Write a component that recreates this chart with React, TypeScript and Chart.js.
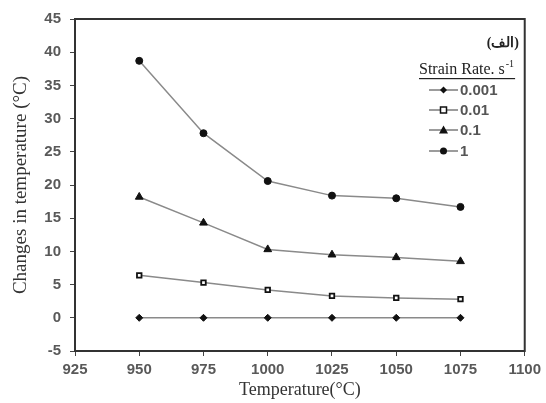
import React, { useEffect, useRef } from "react";
import { Chart, registerables } from "chart.js";

Chart.register(...registerables);

const temperatures = [950, 975, 1000, 1025, 1050, 1075];
const rate0001 = [0, 0, 0, 0, 0, 0];
const rate001 = [6.4, 5.3, 4.2, 3.3, 3.0, 2.8];
const rate01 = [18.2, 14.3, 10.3, 9.5, 9.1, 8.5];
const rate1 = [38.7, 27.8, 20.6, 18.4, 18.0, 16.7];
const seriesLabels = ["0.001", "0.01", "0.1", "1"];
const legendTitle = "Strain Rate. s";
const panelLabel = "(الف)";
const xTitle = "Temperature(°C)";
const yTitle = "Changes in temperature (°C)";

const LINE = "#8a8a8a";
const MARK = "#111111";
const TICK_FONT = "'Liberation Sans', Arial, sans-serif";
const SERIF = "'Liberation Serif', 'Times New Roman', serif";

function drawMarker(ctx: CanvasRenderingContext2D, style: string, x: number, y: number) {
  ctx.save();
  ctx.fillStyle = MARK;
  ctx.strokeStyle = MARK;
  ctx.lineWidth = 1.5;
  ctx.beginPath();
  if (style === "rectRot") {
    const r = 3.5;
    ctx.moveTo(x, y - r); ctx.lineTo(x + r, y); ctx.lineTo(x, y + r); ctx.lineTo(x - r, y); ctx.closePath();
    ctx.fill();
  } else if (style === "rect") {
    ctx.fillStyle = "#fff";
    ctx.rect(x - 3, y - 3, 6, 6);
    ctx.fill(); ctx.stroke();
  } else if (style === "triangle") {
    const r = 4.5;
    ctx.moveTo(x, y - r); ctx.lineTo(x + r, y + r * 0.75); ctx.lineTo(x - r, y + r * 0.75); ctx.closePath();
    ctx.fill();
  } else {
    ctx.arc(x, y, 3.5, 0, Math.PI * 2);
    ctx.fill();
  }
  ctx.restore();
}

const styles = ["rectRot", "rect", "triangle", "circle"];

export default function App() {
  const ref = useRef<HTMLCanvasElement | null>(null);
  useEffect(() => {
    if (!ref.current) return;
    const frame = {
      id: "frame",
      afterDatasetsDraw(chart: any) {
        const { ctx, chartArea: a } = chart;
        ctx.save();
        ctx.strokeStyle = "#333";
        ctx.lineWidth = 2;
        ctx.strokeRect(a.left, a.top, a.right - a.left, a.bottom - a.top);
        // panel label
        ctx.fillStyle = "#222";
        ctx.font = `bold 14px ${SERIF}`;
        ctx.textAlign = "right";
        ctx.textBaseline = "middle";
        ctx.fillText(panelLabel, 519, 43);
        // legend title
        ctx.font = `16px ${SERIF}`;
        ctx.textAlign = "left";
        const tw = ctx.measureText(legendTitle).width;
        const tx = 419;
        ctx.fillText(legendTitle, tx, 70);
        ctx.font = `10px ${SERIF}`;
        ctx.fillText("-1", tx + tw + 1, 64);
        const sw = ctx.measureText("-1").width;
        ctx.fillRect(tx, 78, tw + sw + 2, 1.2);
        // entries
        const rows = [90, 110, 130, 151];
        ctx.font = `bold 15px ${TICK_FONT}`;
        seriesLabels.forEach((lab, i) => {
          const y = rows[i];
          ctx.strokeStyle = "#666";
          ctx.lineWidth = 1.3;
          ctx.beginPath();
          ctx.moveTo(429, y); ctx.lineTo(458, y); ctx.stroke();
          drawMarker(ctx, styles[i], 443.5, y);
          ctx.fillStyle = "#555";
          ctx.fillText(lab, 460, y + 1);
        });
        ctx.restore();
      },
    };
    const mk = (label: string, data: number[], style: string, radius: number, fill: string) => ({
      label,
      data: temperatures.map((t, i) => ({ x: t, y: data[i] })),
      borderColor: LINE,
      borderWidth: 1.5,
      pointStyle: style,
      pointRadius: radius,
      pointBackgroundColor: fill,
      pointBorderColor: MARK,
      pointBorderWidth: style === "rect" ? 1.8 : 1,
      tension: 0,
    });
    const chart = new Chart(ref.current, {
      type: "line",
      data: {
        datasets: [
          mk(seriesLabels[0], rate0001, "rectRot", 3.5, MARK),
          mk(seriesLabels[1], rate001, "rect", 3.2, "#fff"),
          mk(seriesLabels[2], rate01, "triangle", 4.5, MARK),
          mk(seriesLabels[3], rate1, "circle", 3.5, MARK),
        ],
      },
      options: {
        animation: false,
        responsive: false,
        devicePixelRatio: 1,
        layout: { padding: { top: 19, right: 20, left: 0, bottom: 0 } },
        plugins: { legend: { display: false }, tooltip: { enabled: false } },
        scales: {
          x: {
            type: "linear",
            min: 925,
            max: 1100,
            afterFit: (s: any) => { s.height = 52; },
            ticks: {
              stepSize: 25,
              color: "#595959",
              font: { family: TICK_FONT, size: 15, weight: "bold" },
              padding: 5,
              callback: (v: any) => String(v),
            },
            grid: { drawOnChartArea: false, drawTicks: true, tickLength: 5, color: "#444" },
            border: { color: "#333", width: 2 },
            title: { display: true, text: xTitle, color: "#333", font: { family: SERIF, size: 18 }, padding: { top: 0, bottom: 2 } },
          },
          y: {
            min: -5,
            max: 45,
            afterFit: (s: any) => { s.width = 75; },
            ticks: { stepSize: 5, color: "#595959", font: { family: TICK_FONT, size: 15, weight: "bold" }, padding: 9 },
            grid: { drawOnChartArea: false, drawTicks: true, tickLength: 5, color: "#444" },
            border: { color: "#333", width: 2 },
            title: { display: true, text: yTitle, color: "#333", font: { family: SERIF, size: 19 }, padding: { top: 10, bottom: 0 } },
          },
        },
      },
      plugins: [frame],
    } as any);
    return () => chart.destroy();
  }, []);
  return (
    <div style={{ position: "fixed", left: 0, top: 0, width: 546, height: 403, background: "#fff" }}>
      <canvas ref={ref} width={546} height={403} />
    </div>
  );
}
